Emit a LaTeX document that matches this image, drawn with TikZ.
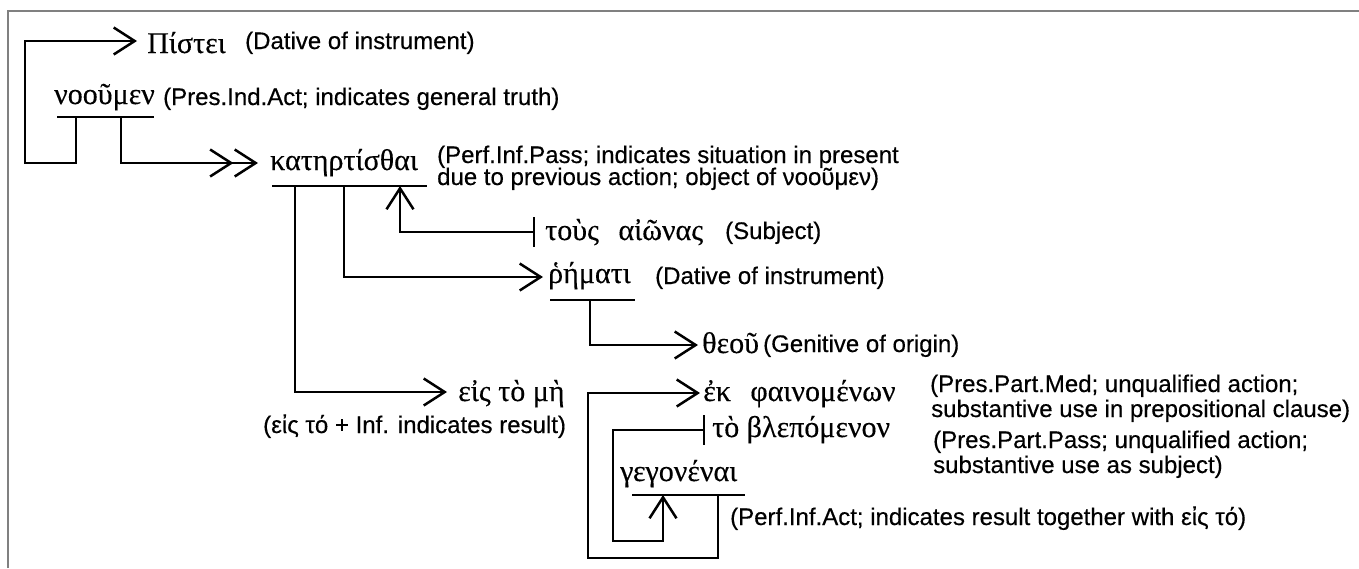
\documentclass[tikz,border=0pt]{standalone}
\usepackage{fontspec}
\setmainfont{Liberation Serif}
\setsansfont{Liberation Sans}
\newfontfamily\lblfont[FakeBold=0.4]{Liberation Sans}
\newfontfamily\gkfont[FakeBold=0.3]{Liberation Serif}
\usetikzlibrary{arrows.meta}
\begin{document}
\begin{tikzpicture}[x=1pt,y=-1pt,
  gk/.style={font=\gkfont\fontsize{30}{30}\selectfont, inner sep=0pt, anchor=base west},
  lbl/.style={font=\lblfont\fontsize{24}{22}\selectfont, inner sep=0pt, anchor=base west},
  ln/.style={line width=2.5pt, black},
  >={Straight Barb[length=21pt,width=27pt]},
  barstart/.style={{Bar[width=30pt]}->},
  frame/.style={line width=2pt, gray}]
\useasboundingbox (0,0) rectangle (1359,568);
\draw[frame] (8,568) -- (8,11) -- (1359,11);

% text nodes
\node[gk]  (pis)   at (147,53)  {Πίστει};
\node[lbl] (pisc)  at (245,49)  {(Dative of instrument)};
\node[gk]  (noo)   at (54,104)  {νοοῦμεν};
\node[lbl] (nooc)  at (163,105) {(Pres.Ind.Act; indicates general truth)};
\node[gk]  (kat)   at (270,170) {κατηρτίσθαι};
\node[lbl] (katca) at (437,163) {(Perf.Inf.Pass; indicates situation in present};
\node[lbl] (katcb) at (437,185) {due to previous action; object of νοοῦμεν)};
\node[gk]  (tous)  at (545,240) {τοὺς\hspace{0.4em} αἰῶνας};
\node[lbl] (tousc) at (725,239) {(Subject)};
\node[gk]  (rho)   at (548,283) {ῥήματι};
\node[lbl] (rhoc)  at (655,284) {(Dative of instrument)};
\node[gk]  (theou) at (702,353) {θεοῦ};
\node[lbl] (theouc) at (763,352) {(Genitive of origin)};
\node[gk]  (eis)   at (458,401) {εἰς τὸ μὴ};
\node[lbl] (eisc)  at (263,433) {(εἰς τό + Inf. indicates result)};
\node[gk]  (ek)    at (703,401) {ἐκ\hspace{0.4em} φαινομένων};
\node[lbl] (ekca)  at (930,392) {(Pres.Part.Med; unqualified action;};
\node[lbl] (ekcb)  at (931,417) {substantive use in prepositional clause)};
\node[gk]  (to)    at (712,437) {τὸ βλεπόμενον};
\node[lbl] (toca)  at (933,448) {(Pres.Part.Pass; unqualified action;};
\node[lbl] (tocb)  at (933,473) {substantive use as subject)};
\node[gk]  (geg)   at (620,481) {γεγονέναι};
\node[lbl] (gegc)  at (730,525) {(Perf.Inf.Act; indicates result together with εἰς τό)};

% underline and tip coordinates
\coordinate (nooL) at (57,117);   \coordinate (nooR) at (154,117);
\coordinate (katL) at (272,186);  \coordinate (katR) at (427,186);
\coordinate (rhoL) at (550,300);  \coordinate (rhoR) at (635,300);
\coordinate (gegL) at (632,495);  \coordinate (gegR) at (745,495);
\coordinate (pisT) at (137,41);
\coordinate (katT) at (258,163);
\coordinate (eisT) at (447,392);
\coordinate (rhoT) at (543,277);
\coordinate (tousB) at (535,232);
\coordinate (theouT) at (698,345);
\coordinate (ekT) at (700,393);
\coordinate (toB) at (705,430);

% underlines
\draw[ln] (nooL) -- (nooR);
\draw[ln] (katL) -- (katR);
\draw[ln] (rhoL) -- (rhoR);
\draw[ln] (gegL) -- (gegR);

% connectors
\draw[ln,->] (76,117) -- (76,163) -- (25,163) -- (25,41) -- (pisT);
\draw[ln,->>] (121,117) -- (121,163) -- (katT);
\draw[ln,->] (295,186) -- (295,392) -- (eisT);
\draw[ln,->] (344,186) -- (344,277) -- (rhoT);
\draw[ln,barstart] (tousB) -- (400,232) -- (400,186);
\draw[ln,->] (590,300) -- (590,345) -- (theouT);
\draw[ln,->] (718,495) -- (718,558) -- (588,558) -- (588,393) -- (ekT);
\draw[ln,barstart] (toB) -- (613,430) -- (613,541) -- (663,541) -- (663,495);
\end{tikzpicture}
\end{document}
